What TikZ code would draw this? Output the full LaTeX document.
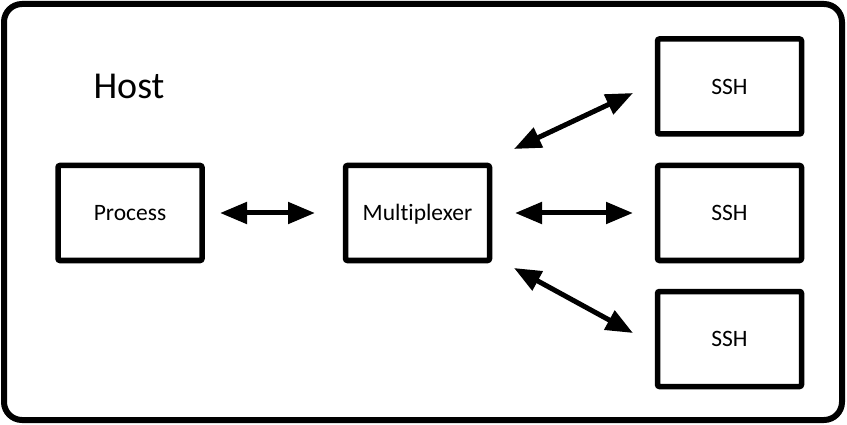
\documentclass[tikz,border=0pt]{standalone}
\usepackage{fontspec}
\setmainfont[Ligatures=NoCommon]{Carlito}
\usetikzlibrary{arrows.meta}
\begin{document}
\begin{tikzpicture}[x=1pt,y=-1pt,
  box/.style={draw,line width=5.5pt,rounded corners=2pt,minimum width=144pt,minimum height=95pt,
    inner sep=0pt,text height=15.1pt,text depth=0pt,font=\fontsize{23.5}{28}\selectfont},
  link/.style={line width=5pt,{Triangle[length=27pt,width=21pt]}-{Triangle[length=27pt,width=21pt]}}]
\useasboundingbox (0,0) rectangle (847,425);
\draw[line width=6pt,rounded corners=18pt] (4,4) rectangle (842,420);
\node[font=\fontsize{38}{44}\selectfont,inner sep=0pt] (host) at (129,86) {Host};
\node[box] (proc) at (130,213) {Process};
\node[box] (mux) at (417.5,213) {Multiplexer};
\node[box] (ssh1) at (729.5,86.5) {SSH};
\node[box] (ssh2) at (729.5,213) {SSH};
\node[box] (ssh3) at (729.5,339) {SSH};
\coordinate (pa) at (220,213);
\coordinate (ma) at (315,213);
\coordinate (mb) at (515,213);
\coordinate (sb) at (633,213);
\coordinate (mc) at (514,149);
\coordinate (sc) at (633,93);
\coordinate (md) at (514,268);
\coordinate (sd) at (633,333);
\draw[link] (pa) -- (ma);
\draw[link] (mb) -- (sb);
\draw[link] (mc) -- (sc);
\draw[link] (md) -- (sd);
\end{tikzpicture}
\end{document}
